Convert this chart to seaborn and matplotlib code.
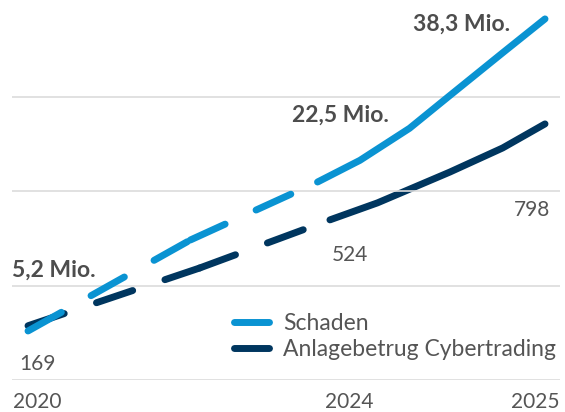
import pandas as pd
import seaborn as sns
import matplotlib.pyplot as plt
from matplotlib.lines import Line2D

sns.set_theme(style="white")
plt.rcParams['font.family'] = ['Lato', 'DejaVu Sans']

# position along the time axis (years)
schaden_t = [2020.0, 2021.57, 2022.80, 2023.21, 2023.69, 2024.06, 2024.59, 2025.0]
schaden_mio = [5.2, 14.85, 21.0, 23.3, 26.7, 30.0, 34.7, 38.3]
schaden_dashed = 3          # first n points are drawn dashed

cyber_t = [2020.0, 2021.66, 2022.92, 2023.38, 2024.08, 2024.59, 2025.0]
cyber_cases = [169, 349, 499, 552, 648, 723, 798]
cyber_dashed = 3

tick_pos = [2019.85, 2023.11, 2025.14]
tick_labels = ["2020", "2024", "2025"]

labels = ["Schaden", "Anlagebetrug Cybertrading"]
blue = "#0a93d2"
navy = "#00365f"
grey = "#555555"


def segments(t, v, n_dashed):
    # each dashed step is its own unit, the rest is one solid line
    rows = []
    for i in range(n_dashed - 1):
        rows.append((t[i], v[i], i, "dash"))
        rows.append((t[i + 1], v[i + 1], i, "dash"))
    for i in range(n_dashed - 1, len(t)):
        rows.append((t[i], v[i], 99, "solid"))
    return pd.DataFrame(rows, columns=["t", "v", "seg", "kind"])


fig = plt.figure(figsize=(5.65, 4.12), dpi=100)
ax = fig.add_axes([12 / 565, 32 / 412, 548 / 565, 379 / 412])
ax2 = ax.twinx()

dash_map = {"dash": (5.5, 4.9), "solid": ""}
sns.lineplot(data=segments(schaden_t, schaden_mio, schaden_dashed), x="t", y="v",
             units="seg", style="kind", dashes=dash_map, estimator=None, sort=False,
             color=blue, lw=5, legend=False, ax=ax,
             dash_capstyle="round", solid_capstyle="round", solid_joinstyle="round")
sns.lineplot(data=segments(cyber_t, cyber_cases, cyber_dashed), x="t", y="v",
             units="seg", style="kind", dashes=dash_map, estimator=None, sort=False,
             color=navy, lw=5, legend=False, ax=ax2,
             dash_capstyle="round", solid_capstyle="round", solid_joinstyle="round")

ax.set_xlim(2019.845, 2025.145)
ax.set_ylim(0, 40.2)
ax2.set_ylim(0, 1181)

ax.set_yticks([0, 10, 20, 30])
ax.yaxis.grid(True, color="#dcdcdc", lw=1.2)
ax.tick_params(axis="y", left=False, labelleft=False)
ax2.set_yticks([])
for a in (ax, ax2):
    a.set_xlabel("")
    a.set_ylabel("")
    for s in a.spines.values():
        s.set_visible(False)
ax.set_zorder(ax2.get_zorder() + 1)
ax.patch.set_visible(False)

ax.set_xticks(tick_pos, tick_labels)
ax.tick_params(axis="x", bottom=False, pad=2.5, labelsize=15, labelcolor=grey)
xl = ax.get_xticklabels()
xl[0].set_ha("left")
xl[1].set_ha("center")
xl[2].set_ha("right")

bold = dict(fontsize=16.5, fontweight="bold", color="#4d4d4d", va="center")
ax.text(2019.845, 11.66, "5,2 Mio.", ha="left", **bold)
ax.text(2023.02, 28.1, "22,5 Mio.", ha="center", **bold)
ax.text(2024.66, 37.75, "38,3 Mio.", ha="right", **bold)

num = dict(fontsize=15, color=grey, va="center")
ax2.text(2019.92, 50, "169", ha="left", **num)
ax2.text(2023.11, 390, "524", ha="center", **num)
ax2.text(2025.05, 530, "798", ha="right", **num)

handles = [Line2D([], [], color=blue, lw=5, solid_capstyle="round"),
           Line2D([], [], color=navy, lw=5, solid_capstyle="round")]
leg = fig.legend(handles, labels, loc="upper left", bbox_to_anchor=(233.5 / 565, 1 - 313 / 412),
                 frameon=False, fontsize=16.5, handlelength=1.53, handletextpad=0.63,
                 labelspacing=0.23, borderpad=0, borderaxespad=0)
for txt in leg.get_texts():
    txt.set_color(grey)

fig.savefig("out.png", dpi=100)
